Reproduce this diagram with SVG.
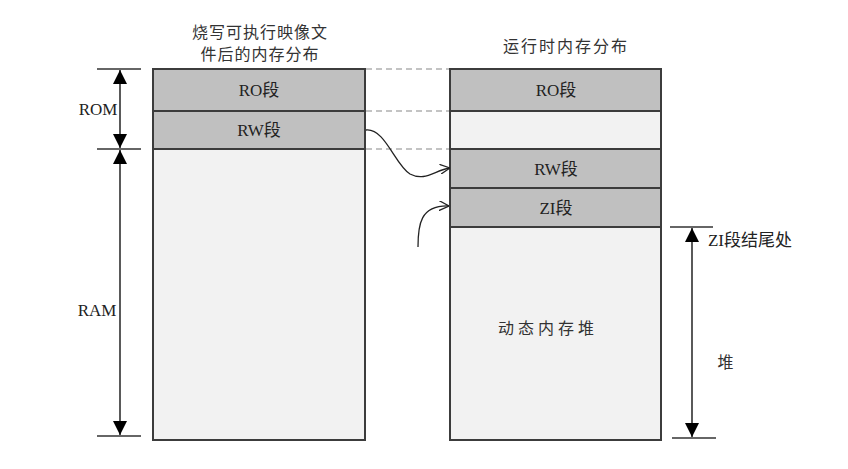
<svg xmlns="http://www.w3.org/2000/svg" width="848" height="469" viewBox="0 0 848 469">
<style>
.t{font-family:"Liberation Serif","Noto Sans CJK SC",serif;font-size:17px;fill:#222;text-anchor:middle}
.c{font-family:"Noto Sans CJK SC","Liberation Sans",sans-serif;font-size:16px;fill:#333;text-anchor:middle;letter-spacing:1px}
.seg{fill:#c0c0c0;stroke:#3c3c3c;stroke-width:2}
.emp{fill:#f2f2f2;stroke:#3c3c3c;stroke-width:2}
.dash{stroke:#b0b0b0;stroke-width:1.3;stroke-dasharray:6 4;fill:none}
.dim{stroke:#000;stroke-width:1.3;fill:none}
.tick{stroke:#333;stroke-width:1.3}
.cv{stroke:#222;stroke-width:1.3;fill:none;marker-end:url(#open)}
</style>
<defs>
<marker id="fa" viewBox="0 0 10 10" refX="10" refY="5" markerWidth="14" markerHeight="14" markerUnits="userSpaceOnUse" orient="auto-start-reverse"><path d="M0,0 L10,5 L0,10 z" fill="#000"/></marker>
<marker id="open" viewBox="0 0 10 10" refX="10" refY="5" markerWidth="10" markerHeight="10" markerUnits="userSpaceOnUse" orient="auto"><path d="M0,0 L10,5 L0,10" fill="none" stroke="#222" stroke-width="1.3"/></marker>
</defs>
<rect width="848" height="469" fill="#fff"/>
<text class="c" x="260" y="38">烧写可执行映像文</text>
<text class="c" x="260" y="60">件后的内存分布</text>
<text class="c" x="566" y="52" style="letter-spacing:2px">运行时内存分布</text>
<g id="left-mem">
<rect class="emp" x="153" y="149" width="212" height="291"/>
<g id="left-ro"><rect class="seg" x="153" y="69" width="212" height="42"/><text class="t" x="259" y="96">RO段</text></g>
<g id="left-rw"><rect class="seg" x="153" y="111" width="212" height="38"/><text class="t" x="259" y="136">RW段</text></g>
</g>
<g id="right-mem">
<rect class="emp" x="450" y="227" width="211" height="213"/>
<text class="c" x="548" y="334" style="letter-spacing:4px">动态内存堆</text>
<g id="right-ro"><rect class="seg" x="450" y="69" width="211" height="42"/><text class="t" x="556" y="96">RO段</text></g>
<rect class="emp" x="450" y="111" width="211" height="38"/>
<g id="right-rw"><rect class="seg" x="450" y="149" width="211" height="39"/><text class="t" x="556" y="175">RW段</text></g>
<g id="right-zi"><rect class="seg" x="450" y="188" width="211" height="39"/><text class="t" x="556" y="214">ZI段</text></g>
</g>
<g id="connectors">
<line class="dash" x1="366" y1="69" x2="449" y2="69"/>
<line class="dash" x1="366" y1="111" x2="449" y2="111"/>
<line class="dash" x1="366" y1="149" x2="449" y2="149"/>
<path class="cv" d="M366,130 C385,128 395,165 410,174 C425,182 435,170 450,168"/>
<path class="cv" d="M418,247 C418,225 420,205 449,206"/>
<line class="tick" x1="97" y1="69" x2="141" y2="69"/>
<line class="tick" x1="97" y1="149" x2="141" y2="149"/>
<line class="tick" x1="97" y1="436" x2="141" y2="436"/>
<line class="dim" x1="120" y1="70" x2="120" y2="148" marker-start="url(#fa)" marker-end="url(#fa)"/>
<line class="dim" x1="120" y1="150" x2="120" y2="435" marker-start="url(#fa)" marker-end="url(#fa)"/>
<line class="tick" x1="670" y1="227" x2="713" y2="227"/>
<line class="tick" x1="672" y1="438" x2="716" y2="438"/>
<line class="dim" x1="692" y1="228" x2="692" y2="437" stroke="#888" stroke-width="2" marker-start="url(#fa)" marker-end="url(#fa)"/>
</g>
<text class="t" x="98" y="115">ROM</text>
<text class="t" x="97" y="316">RAM</text>
<text class="t" x="750" y="246">ZI段结尾处</text>
<text class="c" x="726" y="368">堆</text>
</svg>
